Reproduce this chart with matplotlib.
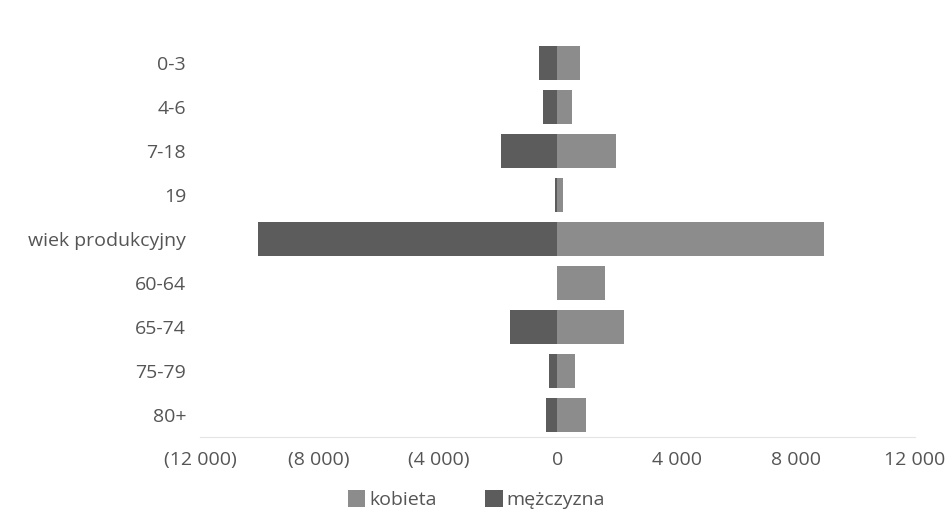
import numpy as np
import matplotlib.pyplot as plt
from matplotlib.ticker import FuncFormatter

# dane
grupy = ['0-3', '4-6', '7-18', '19', 'wiek produkcyjny', '60-64', '65-74', '75-79', '80+']
kobieta = [760, 490, 1980, 200, 8950, 1580, 2220, 600, 970]
mezczyzna = [620, 470, 1890, 100, 10050, 0, 1590, 300, 370]

kolor_k = '#8c8c8c'
kolor_m = '#5c5c5c'
kolor_tekst = '#555555'

plt.rcParams['font.family'] = ['Open Sans', 'DejaVu Sans']

fig = plt.figure(figsize=(9.47, 5.18), dpi=100)
ax = fig.add_axes([0.2112, 0.1564, 0.755, 0.7645])

y = np.arange(len(grupy))
ax.barh(y, kobieta, height=0.77, color=kolor_k, label='kobieta')
ax.barh(y, [-v for v in mezczyzna], height=0.77, color=kolor_m, label='mężczyzna')

ax.set_xlim(-12000, 12000)
ax.set_ylim(len(grupy) - 0.5, -0.5)
ax.set_yticks(y)
ax.set_yticklabels(grupy)
ax.set_xticks(np.arange(-12000, 12001, 4000))


def fmt(v, pos):
    s = '{:,.0f}'.format(abs(v)).replace(',', ' ')
    return '(' + s + ')' if v < 0 else s


ax.xaxis.set_major_formatter(FuncFormatter(fmt))
ax.tick_params(axis='both', length=0, labelsize=14, colors=kolor_tekst)
ax.tick_params(axis='x', pad=10)
ax.tick_params(axis='y', pad=10)

for s in ['top', 'right', 'left']:
    ax.spines[s].set_visible(False)
ax.spines['bottom'].set_color('#e4e4e4')

fig.legend(loc='center', bbox_to_anchor=(0.503, 0.035), ncol=2, frameon=False,
           fontsize=14, handlelength=0.9, handleheight=0.9, columnspacing=2.5,
           handletextpad=0.2, labelcolor=kolor_tekst)

fig.savefig('out.png', dpi=100)
